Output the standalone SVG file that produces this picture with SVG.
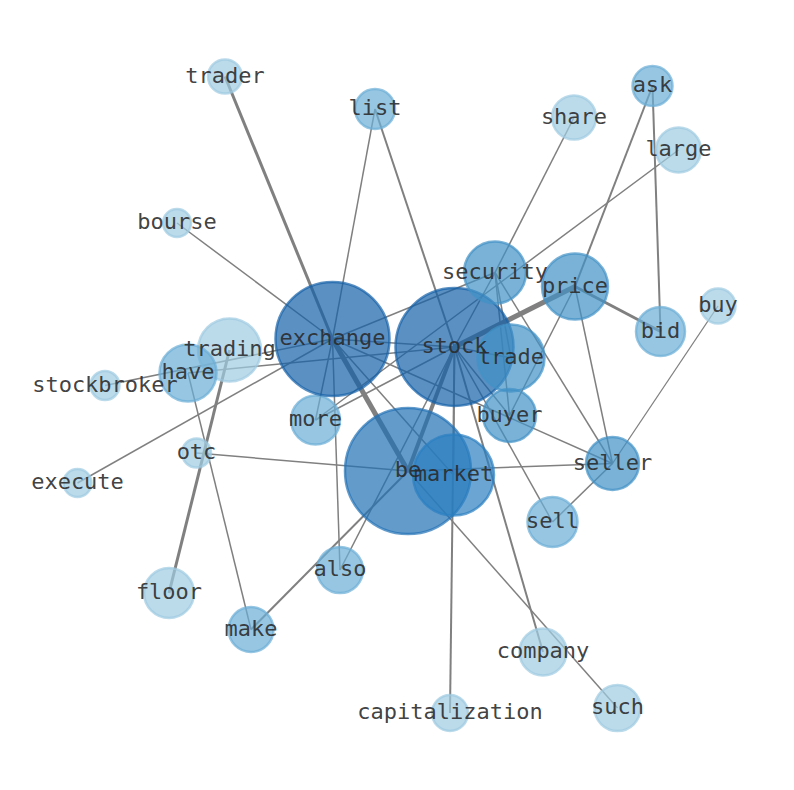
<svg xmlns="http://www.w3.org/2000/svg" width="794" height="790" viewBox="0 0 794 790">
<style>
.e{stroke:#808080;stroke-linecap:butt;fill:none}
.n circle{stroke-width:2.5;fill-opacity:0.7;stroke-opacity:0.7}
.c1 circle{fill:#1561a8;stroke:#1561a8}
.cb circle{fill:#2171b5;stroke:#2171b5}
.cm circle{fill:#2b7fc0;stroke:#2b7fc0}
.c2 circle{fill:#4292c6;stroke:#4292c6}
.c3 circle{fill:#6baed6;stroke:#6baed6}
.c4 circle{fill:#9ecae1;stroke:#9ecae1}
text{font-family:"DejaVu Sans Mono","Liberation Mono",monospace;font-size:22px;fill:#2a2a2a;fill-opacity:0.9;text-anchor:middle}
</style>
<rect width="794" height="790" fill="#fff"/>
<g id="edges">
<line class="e" x1="225" y1="76.5" x2="332.5" y2="339" stroke-width="3"/>
<line class="e" x1="375" y1="109" x2="332.5" y2="339" stroke-width="1.5"/>
<line class="e" x1="375" y1="109" x2="454.5" y2="347" stroke-width="2"/>
<line class="e" x1="177" y1="223" x2="332.5" y2="339" stroke-width="1.5"/>
<line class="e" x1="574" y1="117.5" x2="495" y2="272.5" stroke-width="1.5"/>
<line class="e" x1="652.5" y1="86" x2="575" y2="286.5" stroke-width="2"/>
<line class="e" x1="652.5" y1="86" x2="660.5" y2="331.5" stroke-width="2"/>
<line class="e" x1="678.5" y1="150" x2="315.5" y2="420" stroke-width="1.5"/>
<line class="e" x1="575" y1="286.5" x2="454.5" y2="347" stroke-width="5"/>
<line class="e" x1="575" y1="286.5" x2="660.5" y2="331.5" stroke-width="3"/>
<line class="e" x1="575" y1="286.5" x2="612.5" y2="463.5" stroke-width="1.5"/>
<line class="e" x1="575" y1="286.5" x2="509.5" y2="415.5" stroke-width="1.5"/>
<line class="e" x1="718" y1="306" x2="612.5" y2="463.5" stroke-width="1.3"/>
<line class="e" x1="332.5" y1="339" x2="612.5" y2="463.5" stroke-width="1.5"/>
<line class="e" x1="552.5" y1="522" x2="612.5" y2="463.5" stroke-width="1.5"/>
<line class="e" x1="408" y1="471" x2="612.5" y2="463.5" stroke-width="1.5"/>
<line class="e" x1="196.5" y1="453" x2="408" y2="471" stroke-width="1.5"/>
<line class="e" x1="617.5" y1="708" x2="408" y2="471" stroke-width="1.5"/>
<line class="e" x1="450" y1="713" x2="454.5" y2="347" stroke-width="2"/>
<line class="e" x1="543" y1="652" x2="454.5" y2="347" stroke-width="2"/>
<line class="e" x1="332.5" y1="339" x2="408" y2="471" stroke-width="5"/>
<line class="e" x1="454.5" y1="347" x2="408" y2="471" stroke-width="4"/>
<line class="e" x1="229.5" y1="350" x2="169" y2="593" stroke-width="3"/>
<line class="e" x1="188" y1="373" x2="251" y2="629.5" stroke-width="1.5"/>
<line class="e" x1="188" y1="373" x2="454.5" y2="347" stroke-width="1.5"/>
<line class="e" x1="105" y1="385.5" x2="332.5" y2="339" stroke-width="1.5"/>
<line class="e" x1="77.5" y1="483" x2="332.5" y2="339" stroke-width="1.5"/>
<line class="e" x1="332.5" y1="339" x2="315.5" y2="420" stroke-width="1.5"/>
<line class="e" x1="332.5" y1="339" x2="340" y2="570" stroke-width="1.5"/>
<line class="e" x1="340" y1="570" x2="454.5" y2="347" stroke-width="1.5"/>
<line class="e" x1="251" y1="629.5" x2="408" y2="471" stroke-width="2"/>
<line class="e" x1="315.5" y1="420" x2="454.5" y2="347" stroke-width="1.5"/>
<line class="e" x1="332.5" y1="339" x2="454.5" y2="347" stroke-width="1.5"/>
<line class="e" x1="332.5" y1="339" x2="495" y2="272.5" stroke-width="1.5"/>
<line class="e" x1="332.5" y1="339" x2="453.5" y2="475" stroke-width="1.5"/>
<line class="e" x1="495" y1="272.5" x2="454.5" y2="347" stroke-width="1.5"/>
<line class="e" x1="495" y1="272.5" x2="612.5" y2="463.5" stroke-width="1.5"/>
<line class="e" x1="495" y1="272.5" x2="509.5" y2="415.5" stroke-width="1.5"/>
<line class="e" x1="495" y1="272.5" x2="511" y2="358" stroke-width="1.5"/>
<line class="e" x1="454.5" y1="347" x2="511" y2="358" stroke-width="1.5"/>
<line class="e" x1="454.5" y1="347" x2="509.5" y2="415.5" stroke-width="1.5"/>
<line class="e" x1="454.5" y1="347" x2="552.5" y2="522" stroke-width="1.5"/>
<line class="e" x1="454.5" y1="347" x2="453.5" y2="475" stroke-width="1.5"/>
</g>
<g id="nodes">
<g id="trader" class="n c4"><circle cx="225" cy="76.5" r="17"/></g>
<g id="list" class="n c3"><circle cx="375" cy="109" r="20"/></g>
<g id="ask" class="n c3"><circle cx="652.5" cy="86" r="20"/></g>
<g id="share" class="n c4"><circle cx="574" cy="117.5" r="22"/></g>
<g id="large" class="n c4"><circle cx="678.5" cy="150" r="22.5"/></g>
<g id="bourse" class="n c4"><circle cx="177" cy="223" r="14"/></g>
<g id="trading" class="n c4"><circle cx="229.5" cy="350" r="31.5"/></g>
<g id="have" class="n c3"><circle cx="188" cy="373" r="28.5"/></g>
<g id="stockbroker" class="n c4"><circle cx="105" cy="385.5" r="14.5"/></g>
<g id="otc" class="n c4"><circle cx="196.5" cy="453" r="14.5"/></g>
<g id="execute" class="n c4"><circle cx="77.5" cy="483" r="14"/></g>
<g id="floor" class="n c4"><circle cx="169" cy="593" r="25"/></g>
<g id="make" class="n c3"><circle cx="251" cy="629.5" r="22.5"/></g>
<g id="also" class="n c3"><circle cx="340" cy="570" r="23"/></g>
<g id="more" class="n c3"><circle cx="315.5" cy="420" r="24.5"/></g>
<g id="exchange" class="n c1"><circle cx="332.5" cy="339" r="57"/></g>
<g id="be" class="n cb"><circle cx="408" cy="471" r="63"/></g>
<g id="market" class="n cm"><circle cx="453.5" cy="475" r="40.5"/></g>
<g id="stock" class="n c1"><circle cx="454.5" cy="347" r="59"/></g>
<g id="security" class="n c2"><circle cx="495" cy="272.5" r="31"/></g>
<g id="trade" class="n c2"><circle cx="511" cy="358" r="33.5"/></g>
<g id="buyer" class="n c2"><circle cx="509.5" cy="415.5" r="26.5"/></g>
<g id="price" class="n c2"><circle cx="575" cy="286.5" r="33"/></g>
<g id="bid" class="n c3"><circle cx="660.5" cy="331.5" r="24.5"/></g>
<g id="buy" class="n c4"><circle cx="718" cy="306" r="17.5"/></g>
<g id="seller" class="n c2"><circle cx="612.5" cy="463.5" r="26.5"/></g>
<g id="sell" class="n c3"><circle cx="552.5" cy="522" r="25"/></g>
<g id="company" class="n c4"><circle cx="543" cy="652" r="23.5"/></g>
<g id="capitalization" class="n c4"><circle cx="450" cy="713" r="18"/></g>
<g id="such" class="n c4"><circle cx="617.5" cy="708" r="23"/></g>
</g>
<g id="labels">
<text x="225" y="82.5">trader</text>
<text x="375" y="115">list</text>
<text x="652.5" y="92">ask</text>
<text x="574" y="123.5">share</text>
<text x="678.5" y="156">large</text>
<text x="177" y="229">bourse</text>
<text x="229.5" y="356">trading</text>
<text x="188" y="379">have</text>
<text x="105" y="391.5">stockbroker</text>
<text x="196.5" y="459">otc</text>
<text x="77.5" y="489">execute</text>
<text x="169" y="599">floor</text>
<text x="251" y="635.5">make</text>
<text x="340" y="576">also</text>
<text x="315.5" y="426">more</text>
<text x="332.5" y="345">exchange</text>
<text x="408" y="477">be</text>
<text x="453.5" y="481">market</text>
<text x="454.5" y="353">stock</text>
<text x="495" y="278.5">security</text>
<text x="511" y="364">trade</text>
<text x="509.5" y="421.5">buyer</text>
<text x="575" y="292.5">price</text>
<text x="660.5" y="337.5">bid</text>
<text x="718" y="312">buy</text>
<text x="612.5" y="469.5">seller</text>
<text x="552.5" y="528">sell</text>
<text x="543" y="658">company</text>
<text x="450" y="719">capitalization</text>
<text x="617.5" y="714">such</text>
</g>
</svg>
